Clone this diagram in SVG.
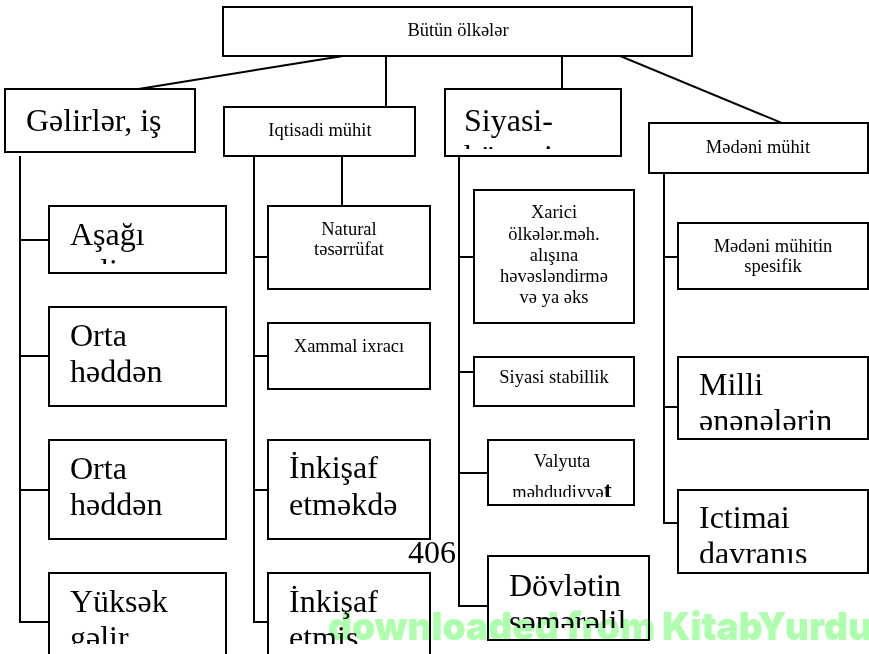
<svg xmlns="http://www.w3.org/2000/svg" width="869" height="654" viewBox="0 0 869 654">
  <defs>
    <style>
      .box { fill: #fff; stroke: #000; stroke-width: 2; }
      .ln { stroke: #000; stroke-width: 2; fill: none; stroke-linecap: square; }
      .big { font-family: "Liberation Serif", "DejaVu Serif", serif; font-size: 32px; fill: #000; }
      .sm { font-family: "Liberation Serif", "DejaVu Serif", serif; font-size: 18.5px; fill: #000; text-anchor: middle; }
      .wm { font-family: Inter, "Noto Sans", "DejaVu Sans", sans-serif; font-weight: 900; font-size: 39px; fill: #adffad; mix-blend-mode: multiply; }
    </style>
    <!-- text areas of the boxes: overflowing lines are cut off at these edges -->
    <clipPath id="c-asagi"><rect x="49" y="206" width="177" height="58"/></clipPath>
    <clipPath id="c-siyasi"><rect x="445" y="89" width="176" height="60"/></clipPath>
    <clipPath id="c-yuksek"><rect x="49" y="573" width="177" height="71"/></clipPath>
    <clipPath id="c-inkisaf2"><rect x="268" y="573" width="162" height="71"/></clipPath>
    <clipPath id="c-milli"><rect x="678" y="357" width="190" height="73"/></clipPath>
    <clipPath id="c-ictimai"><rect x="678" y="490" width="190" height="73"/></clipPath>
    <clipPath id="c-valyuta"><rect x="488" y="440" width="146" height="57"/></clipPath>
    <clipPath id="c-dovlet"><rect x="488" y="556" width="161" height="72"/></clipPath>
  </defs>

  <rect width="869" height="654" fill="#fff"/>

  <g id="connectors">
    <!-- root to the four groups -->
    <line class="ln" x1="343" y1="56" x2="138" y2="89"/>
    <line class="ln" x1="386" y1="56" x2="386" y2="107"/>
    <line class="ln" x1="562" y1="56" x2="562" y2="89"/>
    <line class="ln" x1="620" y1="56" x2="782" y2="123"/>
    <!-- income column -->
    <polyline class="ln" points="20,157 20,622 49,622"/>
    <line class="ln" x1="20" y1="240" x2="49" y2="240"/>
    <line class="ln" x1="20" y1="356" x2="49" y2="356"/>
    <line class="ln" x1="20" y1="490" x2="49" y2="490"/>
    <!-- economic column -->
    <polyline class="ln" points="254,156 254,622 268,622"/>
    <line class="ln" x1="342" y1="156" x2="342" y2="206"/>
    <line class="ln" x1="254" y1="257" x2="268" y2="257"/>
    <line class="ln" x1="254" y1="356" x2="268" y2="356"/>
    <line class="ln" x1="254" y1="490" x2="268" y2="490"/>
    <!-- political column -->
    <polyline class="ln" points="459,156 459,606 488,606"/>
    <line class="ln" x1="459" y1="257" x2="474" y2="257"/>
    <line class="ln" x1="459" y1="372" x2="474" y2="372"/>
    <line class="ln" x1="459" y1="473" x2="488" y2="473"/>
    <!-- cultural column -->
    <polyline class="ln" points="664,173 664,523 678,523"/>
    <line class="ln" x1="664" y1="257" x2="678" y2="257"/>
    <line class="ln" x1="664" y1="407" x2="678" y2="407"/>
  </g>

  <g id="root">
    <rect class="box" x="223" y="7" width="469" height="49"/>
    <text class="sm" x="458" y="36">Bütün ölkələr</text>
  </g>

  <!-- first level -->
  <g id="gelirler">
    <rect class="box" x="5" y="89" width="190" height="63"/>
    <text class="big" x="26" y="131">Gəlirlər, iş</text>
  </g>
  <g id="iqtisadi">
    <rect class="box" x="224" y="107" width="191" height="49"/>
    <text class="sm" x="320" y="136">Iqtisadi mühit</text>
  </g>
  <g id="siyasi">
    <rect class="box" x="445" y="89" width="176" height="67"/>
    <g clip-path="url(#c-siyasi)">
      <text class="big" x="464" y="131">Siyasi-</text>
      <text class="big" x="464" y="167">hüquqi</text>
    </g>
  </g>
  <g id="medeni">
    <rect class="box" x="649" y="123" width="219" height="50"/>
    <text class="sm" x="758" y="153">Mədəni mühit</text>
  </g>

  <!-- income levels -->
  <g id="asagi">
    <rect class="box" x="49" y="206" width="177" height="67"/>
    <g clip-path="url(#c-asagi)">
      <text class="big" x="70" y="245">Aşağı</text>
      <text class="big" x="70" y="281">gəlir</text>
    </g>
  </g>
  <g id="orta1">
    <rect class="box" x="49" y="307" width="177" height="99"/>
    <text class="big" x="70" y="346">Orta</text>
    <text class="big" x="70" y="382">həddən</text>
  </g>
  <g id="orta2">
    <rect class="box" x="49" y="440" width="177" height="99"/>
    <text class="big" x="70" y="479">Orta</text>
    <text class="big" x="70" y="515">həddən</text>
  </g>
  <g id="yuksek">
    <rect class="box" x="49" y="573" width="177" height="90"/>
    <g clip-path="url(#c-yuksek)">
      <text class="big" x="70" y="612">Yüksək</text>
      <text class="big" x="70" y="648">gəlir</text>
    </g>
  </g>

  <!-- economy types -->
  <g id="natural">
    <rect class="box" x="268" y="206" width="162" height="83"/>
    <text class="sm" x="349" y="235">Natural</text>
    <text class="sm" x="349" y="255">təsərrüfat</text>
  </g>
  <g id="xammal">
    <rect class="box" x="268" y="323" width="162" height="66"/>
    <text class="sm" x="349" y="352">Xammal ixracı</text>
  </g>
  <g id="inkisaf1">
    <rect class="box" x="268" y="440" width="162" height="99"/>
    <text class="big" x="289" y="478">İnkişaf</text>
    <text class="big" x="289" y="515">etməkdə</text>
  </g>
  <g id="inkisaf2">
    <rect class="box" x="268" y="573" width="162" height="90"/>
    <g clip-path="url(#c-inkisaf2)">
      <text class="big" x="289" y="612">İnkişaf</text>
      <text class="big" x="289" y="648">etmiş</text>
    </g>
  </g>

  <!-- political factors -->
  <g id="xarici">
    <rect class="box" x="474" y="190" width="160" height="133"/>
    <text class="sm" x="554" y="218">Xarici</text>
    <text class="sm" x="554" y="240">ölkələr.məh.</text>
    <text class="sm" x="554" y="261">alışına</text>
    <text class="sm" x="554" y="282">həvəsləndirmə</text>
    <text class="sm" x="554" y="303">və ya əks</text>
  </g>
  <g id="stabillik">
    <rect class="box" x="474" y="357" width="160" height="49"/>
    <text class="sm" x="554" y="383">Siyasi stabillik</text>
  </g>
  <g id="valyuta">
    <rect class="box" x="488" y="440" width="146" height="65"/>
    <text class="sm" x="562" y="467">Valyuta</text>
    <g clip-path="url(#c-valyuta)">
      <text class="sm" x="562" y="498">məhdudiyyə<tspan font-size="24" font-weight="bold">t</tspan></text>
    </g>
  </g>
  <g id="dovlet">
    <rect class="box" x="488" y="556" width="161" height="84"/>
    <g clip-path="url(#c-dovlet)">
      <text class="big" x="509" y="596">Dövlətin</text>
      <text class="big" x="509" y="632">səmərəlil</text>
    </g>
  </g>

  <!-- cultural factors -->
  <g id="spesifik">
    <rect class="box" x="678" y="223" width="190" height="66"/>
    <text class="sm" x="773" y="252">Mədəni mühitin</text>
    <text class="sm" x="773" y="272">spesifik</text>
  </g>
  <g id="milli">
    <rect class="box" x="678" y="357" width="190" height="82"/>
    <g clip-path="url(#c-milli)">
      <text class="big" x="699" y="395">Milli</text>
      <text class="big" x="699" y="431">ənənələrin</text>
    </g>
  </g>
  <g id="ictimai">
    <rect class="box" x="678" y="490" width="190" height="83"/>
    <g clip-path="url(#c-ictimai)">
      <text class="big" x="699" y="528">Ictimai</text>
      <text class="big" x="699" y="564">davranış</text>
    </g>
  </g>

  <!-- page number -->
  <text class="big" x="408" y="563">406</text>

  <!-- source stamp -->
  <text class="wm" x="328" y="640" textLength="544" lengthAdjust="spacingAndGlyphs">downloaded from KitabYurdu</text>
</svg>
